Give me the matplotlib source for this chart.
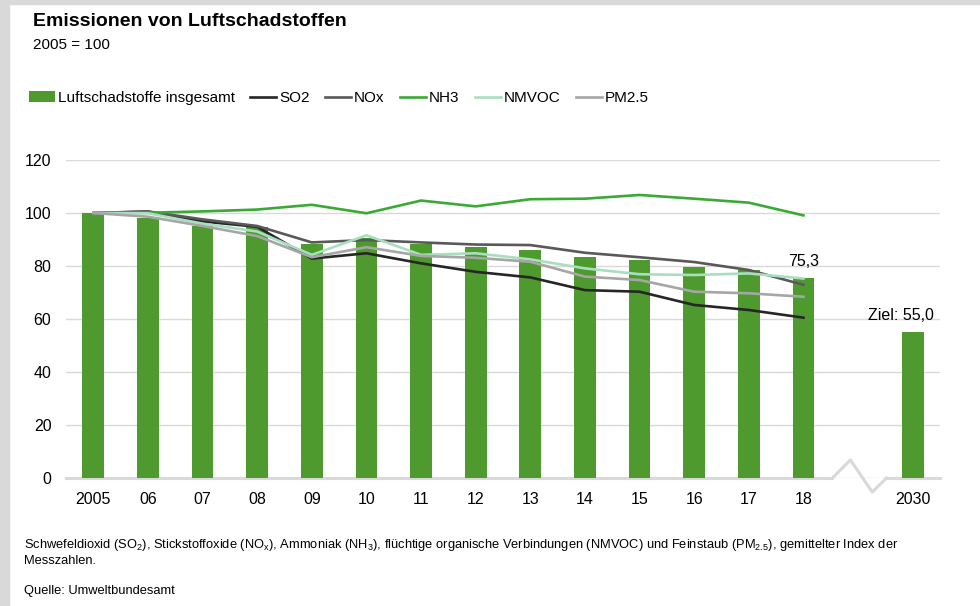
import numpy as np
import matplotlib
matplotlib.use("Agg")
import matplotlib.pyplot as plt
from matplotlib.patches import Rectangle

plt.rcParams['font.family'] = ['Liberation Sans', 'DejaVu Sans']
plt.rcParams['mathtext.default'] = 'regular'

years = ["2005", "06", "07", "08", "09", "10", "11", "12", "13", "14", "15", "16", "17", "18"]
target_label = "2030"

total = [100, 98.2, 95.1, 94.8, 88.3, 90.4, 88.3, 87.1, 86.0, 83.3, 82.4, 79.7, 78.5, 75.3]
target = 55.0
so2 = [100, 100.5, 96.8, 94.8, 82.8, 84.8, 81.0, 77.8, 75.7, 70.9, 70.3, 65.3, 63.4, 60.5]
nox = [100, 100.6, 97.6, 95.1, 88.9, 89.8, 88.9, 88.1, 87.9, 85.0, 83.3, 81.5, 78.5, 72.9]
nh3 = [100, 100.1, 100.6, 101.3, 103.1, 99.9, 104.7, 102.5, 105.2, 105.4, 106.8, 105.4, 103.9, 99.1]
nmvoc = [100, 99.9, 96.0, 93.0, 84.2, 91.6, 84.2, 84.8, 82.5, 79.1, 76.9, 76.6, 77.2, 75.3]
pm25 = [100, 98.6, 95.1, 91.3, 83.3, 87.1, 83.8, 83.1, 81.6, 76.0, 74.7, 70.3, 69.7, 68.4]

bar_green = '#4f9a2f'
grid_col = '#d9d9d9'

fig = plt.figure(figsize=(9.8, 6.06), dpi=100)
# grey frame on the left and top
fig.patches.append(Rectangle((0, 0), 9/980, 1, transform=fig.transFigure, color='#d9d9d9', zorder=-1))
fig.patches.append(Rectangle((0, 1 - 4/606), 1, 4/606, transform=fig.transFigure, color='#d9d9d9', zorder=-1))

ax = fig.add_axes([66/980, 1 - 478/606, 874/980, 318/606])

x = np.arange(len(years))
x_target = len(years) + 1
gap = len(years)

ax.bar(x, total, width=0.4, color=bar_green, zorder=2, label='Luftschadstoffe insgesamt')
ax.bar([x_target], [target], width=0.4, color=bar_green, zorder=2)

ax.plot(x, so2, color='#262626', lw=1.9, zorder=3, label='SO2')
ax.plot(x, nox, color='#595959', lw=1.9, zorder=3, label='NOx')
ax.plot(x, nh3, color='#3aaa35', lw=1.9, zorder=3, label='NH3')
ax.plot(x, nmvoc, color='#a9dfc0', lw=1.9, zorder=3, label='NMVOC')
ax.plot(x, pm25, color='#a6a6a6', lw=1.9, zorder=3, label='PM2.5')

ax.text(x[-1], total[-1] + 3.5, "75,3", fontsize=11.5, ha='center', va='bottom')
ax.text(x_target - 0.22, target + 3.5, "Ziel: 55,0", fontsize=11.5, ha='center', va='bottom')

ax.set_xlim(-0.5, x_target + 0.5)
ax.set_ylim(0, 120)
ax.set_yticks(np.arange(0, 121, 20))
ax.set_xticks(list(x) + [x_target])
ax.set_xticklabels(years + [target_label])
ax.tick_params(length=0, labelsize=11.5, colors='#000000')
ax.tick_params(axis='x', pad=10)
ax.tick_params(axis='y', pad=10.5)
for s in ax.spines.values():
    s.set_visible(False)
ax.yaxis.grid(True, color=grid_col, lw=1, zorder=0)
ax.set_axisbelow(True)

# x axis line with break
zx = [gap - 0.47, gap - 0.14, gap + 0.26, gap + 0.52]
zy = [0, 6.8, -5.3, 0]
ax.plot([-0.5, zx[0]], [0, 0], color=grid_col, lw=2.2, clip_on=False, zorder=1)
ax.plot(zx, zy, color=grid_col, lw=2.2, clip_on=False, zorder=1)
ax.plot([zx[-1], x_target + 0.5], [0, 0], color=grid_col, lw=2.2, clip_on=False, zorder=1)

fig.text(33/980, 1 - 22/606, "Emissionen von Luftschadstoffen", fontsize=14, fontweight='bold', va='center')
fig.text(33/980, 1 - 45/606, "2005 = 100", fontsize=11, va='center')

handles, labels = ax.get_legend_handles_labels()
order = [5, 0, 1, 2, 3, 4]
fig.legend([handles[i] for i in order], [labels[i] for i in order], loc='center left',
           bbox_to_anchor=(29/980, 1 - 98/606), ncol=6, frameon=False, fontsize=11,
           handlelength=1.7, handletextpad=0.2, columnspacing=1.0, borderaxespad=0,
           borderpad=0)

foot = ("Schwefeldioxid (SO$_{2}$), Stickstoffoxide (NO$_{x}$), Ammoniak (NH$_{3}$), flüchtige organische "
        "Verbindungen (NMVOC) und Feinstaub (PM$_{2.5}$), gemittelter Index der\nMesszahlen.")
fig.text(24/980, 1 - 552/606, foot, fontsize=9.3, va='center', linespacing=1.2)
fig.text(24/980, 1 - 591/606, "Quelle: Umweltbundesamt", fontsize=9.3, va='center')

fig.savefig("out.png", dpi=100)
